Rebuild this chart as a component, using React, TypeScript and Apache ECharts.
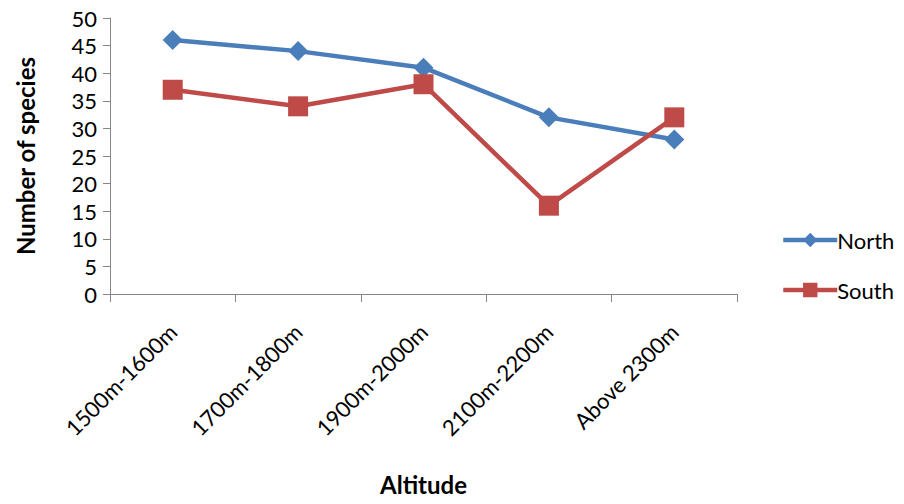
import React, { useEffect, useRef } from "react";
import * as echarts from "echarts";

const categories = ["1500m-1600m", "1700m-1800m", "1900m-2000m", "2100m-2200m", "Above 2300m"];
const northValues = [46, 44, 41, 32, 28];
const southValues = [37, 34, 38, 16, 32];
const yTicks = [0, 5, 10, 15, 20, 25, 30, 35, 40, 45, 50];

const FONT = "Lato, 'Noto Sans', sans-serif";
const AXIS_GREY = "#868686";
const BLUE = "#4A7EBB";
const RED = "#BE4B48";

export default function App() {
  const ref = useRef<HTMLDivElement>(null);

  useEffect(() => {
    if (!ref.current) return;
    const chart = echarts.init(ref.current, undefined, { renderer: "svg" });
    chart.setOption({
      animation: false,
      backgroundColor: "#ffffff",
      textStyle: { fontFamily: FONT },
      grid: {
        left: 110,
        top: 18,
        right: 167,
        bottom: 210,
        containLabel: false,
        outerBoundsMode: "none",
      },
      legend: {
        orient: "vertical",
        left: 776,
        top: 224,
        itemWidth: 54,
        itemHeight: 18,
        itemGap: 28,
        lineStyle: { width: 4.5 },
        textStyle: { fontSize: 22, color: "#000", fontFamily: FONT, padding: [0, 0, 0, -5] },
        data: ["North", "South"],
      },
      xAxis: {
        type: "category",
        data: categories,
        boundaryGap: true,
        axisLine: { lineStyle: { color: AXIS_GREY, width: 1 } },
        axisTick: { show: true, length: 8, alignWithLabel: false, lineStyle: { color: AXIS_GREY } },
        axisLabel: {
          rotate: 45,
          interval: 0,
          fontSize: 22,
          color: "#000",
          fontFamily: FONT,
          margin: 34,
        },
        name: "Altitude",
        nameLocation: "middle",
        nameGap: 178,
        nameTextStyle: { fontSize: 24, fontWeight: "bold", color: "#000", fontFamily: FONT },
      },
      yAxis: {
        type: "value",
        min: yTicks[0],
        max: yTicks[yTicks.length - 1],
        interval: 5,
        splitLine: { show: false },
        axisLine: { show: true, lineStyle: { color: AXIS_GREY, width: 1 } },
        axisTick: { show: true, length: 7, inside: false, lineStyle: { color: AXIS_GREY } },
        axisLabel: { fontSize: 22, color: "#000", fontFamily: FONT, margin: 13 },
        name: "Number of species",
        nameLocation: "middle",
        nameGap: 73,
        nameRotate: 90,
        nameTextStyle: { fontSize: 24, fontWeight: "bold", color: "#000", fontFamily: FONT },
      },
      series: [
        {
          name: "North",
          type: "line",
          data: northValues,
          symbol: "diamond",
          symbolSize: 20,
          color: BLUE,
          lineStyle: { width: 4.5, color: BLUE },
          itemStyle: { color: BLUE },
        },
        {
          name: "South",
          type: "line",
          data: southValues,
          symbol: "rect",
          symbolSize: 20,
          color: RED,
          lineStyle: { width: 4.5, color: RED },
          itemStyle: { color: RED },
        },
      ],
    });
    return () => chart.dispose();
  }, []);

  return <div ref={ref} style={{ width: 904, height: 504, margin: -8 }} />;
}
